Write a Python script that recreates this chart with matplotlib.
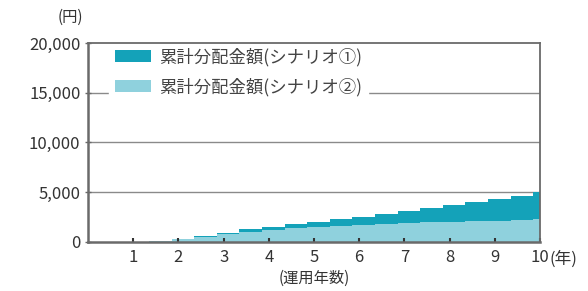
import numpy as np
import matplotlib.pyplot as plt

plt.rcParams['font.family'] = ['Noto Sans CJK JP', 'DejaVu Sans']

# half-year distribution points (years) and cumulative amounts after each step (yen)
step_years = [0.0, 0.35, 0.85, 1.35, 1.85, 2.35, 2.85, 3.35, 3.85, 4.35, 4.85,
              5.35, 5.85, 6.35, 6.85, 7.35, 7.85, 8.35, 8.85, 9.35, 9.85, 10.0]
scenario1 = [0, 0, 20, 80, 250, 550, 900, 1250, 1500, 1750, 2000,
             2250, 2500, 2780, 3050, 3350, 3680, 4000, 4350, 4650, 4980, 4980]
scenario2 = [0, 0, 20, 80, 240, 500, 800, 1000, 1180, 1340, 1480,
             1600, 1700, 1790, 1870, 1940, 2010, 2070, 2130, 2190, 2250, 2250]
labels = ["累計分配金額(シナリオ①)", "累計分配金額(シナリオ②)"]
colors = ["#14a2b9", "#8fd1dd"]

x_ticks = [1, 2, 3, 4, 5, 6, 7, 8, 9, 10]
y_ticks = [0, 5000, 10000, 15000, 20000]

fig = plt.figure(figsize=(5.88, 2.91), dpi=100)
ax = fig.add_axes([0.1497, 0.1694, 0.7687, 0.6826])

ax.fill_between(step_years, 0, scenario1, step="post", color=colors[0],
                linewidth=0, label=labels[0])
ax.fill_between(step_years, 0, scenario2, step="post", color=colors[1],
                linewidth=0, label=labels[1])

ax.set_xlim(0, 10)
ax.set_ylim(0, 20000)
ax.set_xticks(x_ticks)
ax.set_yticks(y_ticks)
ax.set_yticklabels([f"{v:,}" for v in y_ticks])
for v in y_ticks[1:-1]:
    ax.axhline(v, color="#8a8a8a", linewidth=1.0, zorder=0)

for s in ax.spines.values():
    s.set_color("#6a6a6a")
    s.set_linewidth(1.3)
ax.spines["left"].set_linewidth(1.8)
ax.spines["bottom"].set_linewidth(1.8)

ax.tick_params(axis="y", direction="inout", length=5, width=1, color="#6a6a6a",
               labelsize=12, labelcolor="#333333", pad=3)
ax.tick_params(axis="x", direction="in", length=3, width=1.5, color="#333333",
               labelsize=12, labelcolor="#333333", pad=5)

ax.text(10.2, -1750, "(年)", fontsize=12, color="#333333", ha="left", va="center")
ax.text(5.0, -3700, "(運用年数)", fontsize=11, color="#333333", ha="center", va="center")
ax.text(-0.38, 22600, "(円)", fontsize=11, color="#333333", ha="center", va="center")

leg = ax.legend(loc="upper left", bbox_to_anchor=(0.027, 1.05), frameon=True,
                fontsize=12.5, handlelength=2.1, handleheight=0.68,
                labelspacing=0.64, handletextpad=0.42, borderpad=0.35)
leg.set_zorder(2.2)  # keep the frame lines on top of the legend box
leg.get_frame().set_edgecolor("white")
leg.get_frame().set_facecolor("white")
leg.get_frame().set_alpha(1.0)
leg.get_frame().set_boxstyle("square", pad=0)
for t in leg.get_texts():
    t.set_color("#444444")

fig.savefig("out.png", dpi=100)
